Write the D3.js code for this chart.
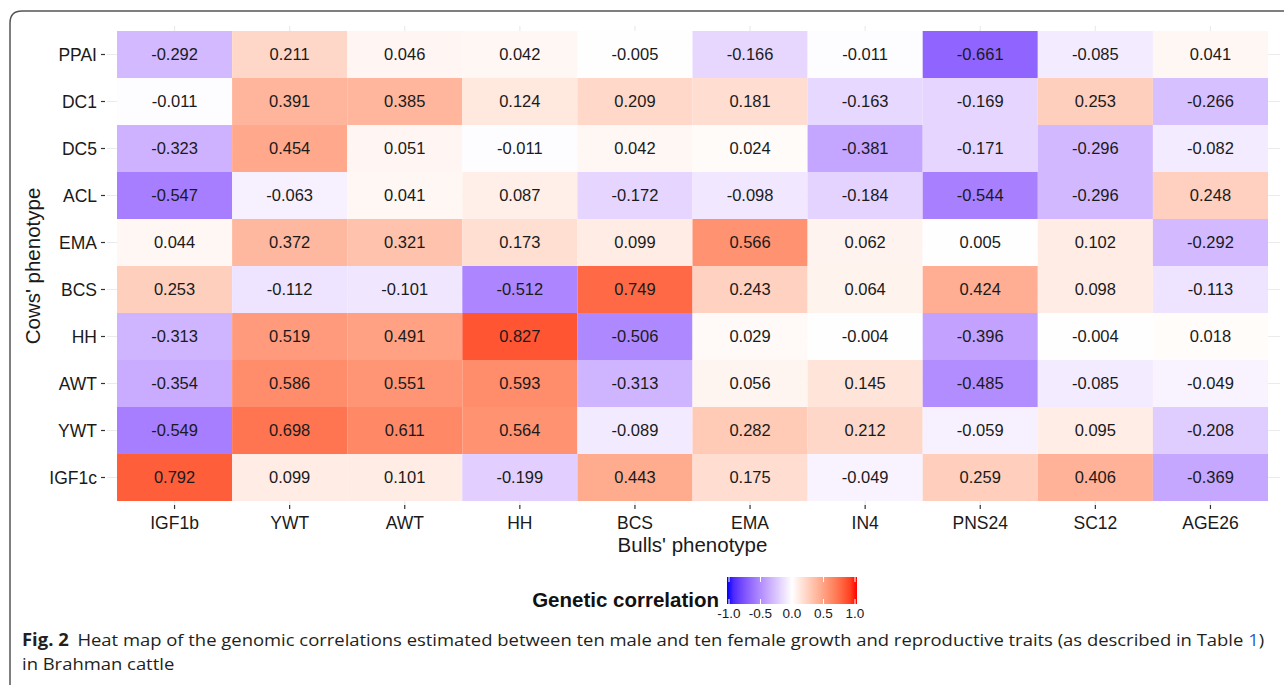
<!DOCTYPE html>
<html>
<head>
<meta charset="utf-8">
<script src="https://cdn.jsdelivr.net/npm/d3@7"></script>
<style>
  body { margin: 0; background: #fff; }
  svg { display: block; }
  .axis text { font-family: "Liberation Sans", Arial, sans-serif; font-size: 17.5px; fill: #1a1a1a; }
  .axis line { stroke: #333; stroke-width: 1.2px; }
  .axis path { display: none; }
</style>
</head>
<body>
<div id="chart"></div>
<script>
// bulls' traits (columns) and cows' traits (rows, top to bottom)
var bulls = ["IGF1b", "YWT", "AWT", "HH", "BCS", "EMA", "IN4", "PNS24", "SC12", "AGE26"];
var cows = ["PPAI", "DC1", "DC5", "ACL", "EMA", "BCS", "HH", "AWT", "YWT", "IGF1c"];

var corr = [
    [-0.292, 0.211, 0.046, 0.042, -0.005, -0.166, -0.011, -0.661, -0.085, 0.041],
    [-0.011, 0.391, 0.385, 0.124, 0.209, 0.181, -0.163, -0.169, 0.253, -0.266],
    [-0.323, 0.454, 0.051, -0.011, 0.042, 0.024, -0.381, -0.171, -0.296, -0.082],
    [-0.547, -0.063, 0.041, 0.087, -0.172, -0.098, -0.184, -0.544, -0.296, 0.248],
    [0.044, 0.372, 0.321, 0.173, 0.099, 0.566, 0.062, 0.005, 0.102, -0.292],
    [0.253, -0.112, -0.101, -0.512, 0.749, 0.243, 0.064, 0.424, 0.098, -0.113],
    [-0.313, 0.519, 0.491, 0.827, -0.506, 0.029, -0.004, -0.396, -0.004, 0.018],
    [-0.354, 0.586, 0.551, 0.593, -0.313, 0.056, 0.145, -0.485, -0.085, -0.049],
    [-0.549, 0.698, 0.611, 0.564, -0.089, 0.282, 0.212, -0.059, 0.095, -0.208],
    [0.792, 0.099, 0.101, -0.199, 0.443, 0.175, -0.049, 0.259, 0.406, -0.369]
];

var legendTicks = [-1.0, -0.5, 0.0, 0.5, 1.0];

var W = 1284, H = 685;
var margin = { top: 31, right: 16, bottom: 184, left: 117 };
var width = W - margin.left - margin.right;
var height = H - margin.top - margin.bottom;

// plain hyphen minus like the original
var locale = d3.formatLocale({ decimal: ".", thousands: ",", grouping: [3], currency: ["", ""], minus: "-" });
var fmt3 = locale.format(".3f");
var fmt1 = locale.format(".1f");

var svg = d3.select("#chart").append("svg")
    .attr("width", W)
    .attr("height", H);

// figure frame (cut off at right/bottom like the page)
svg.append("path")
    .attr("d", "M10,700 L10,23 Q10,11 22,11 L1300,11")
    .attr("fill", "none")
    .attr("stroke", "#555")
    .attr("stroke-width", 1.5);

var g = svg.append("g")
    .attr("transform", "translate(" + margin.left + "," + margin.top + ")");

var x = d3.scaleBand().domain(bulls).range([0, width]);
var y = d3.scaleBand().domain(cows).range([0, height]);

var color = d3.scaleLinear()
    .domain([-1, 0, 1])
    .range(["blue", "white", "red"])
    .interpolate(d3.interpolateLab);

// panel grid lines (only visible outside the tiles)
g.append("g").selectAll("line.v")
    .data(bulls).enter().append("line")
    .attr("x1", function (d) { return x(d) + x.bandwidth() / 2; })
    .attr("x2", function (d) { return x(d) + x.bandwidth() / 2; })
    .attr("y1", -5).attr("y2", height + 5)
    .attr("stroke", "#ebebeb").attr("stroke-width", 1.2);
g.append("g").selectAll("line.h")
    .data(cows).enter().append("line")
    .attr("y1", function (d) { return y(d) + y.bandwidth() / 2; })
    .attr("y2", function (d) { return y(d) + y.bandwidth() / 2; })
    .attr("x1", -10).attr("x2", width + 12)
    .attr("stroke", "#ebebeb").attr("stroke-width", 1.2);

var cells = [];
corr.forEach(function (row, i) {
    row.forEach(function (v, j) {
        cells.push({ row: cows[i], col: bulls[j], value: v });
    });
});

g.selectAll("rect.cell")
    .data(cells)
    .enter()
    .append("rect")
    .attr("class", "cell")
    .attr("x", function (d) { return x(d.col); })
    .attr("y", function (d) { return y(d.row); })
    .attr("width", x.bandwidth())
    .attr("height", y.bandwidth())
    .attr("fill", function (d) { return color(d.value); });

g.selectAll("text.val")
    .data(cells)
    .enter()
    .append("text")
    .attr("class", "val")
    .attr("x", function (d) { return x(d.col) + x.bandwidth() / 2; })
    .attr("y", function (d) { return y(d.row) + y.bandwidth() / 2; })
    .attr("dy", "0.36em")
    .attr("text-anchor", "middle")
    .style("font-family", "'Liberation Sans', Arial, sans-serif")
    .style("font-size", "16.5px")
    .attr("fill", "#1a1a1a")
    .text(function (d) { return fmt3(d.value); });

// axes
g.append("g")
    .attr("class", "axis")
    .attr("transform", "translate(0," + (height + 4) + ")")
    .call(d3.axisBottom(x).tickSize(4).tickPadding(5))
    .selectAll("text").attr("dy", "0.85em");

g.append("g")
    .attr("class", "axis")
    .attr("transform", "translate(-12,0)")
    .call(d3.axisLeft(y).tickSize(4).tickPadding(4))
    .selectAll("text").attr("dy", "0.36em");

// axis titles
svg.append("text")
    .attr("x", margin.left + width / 2)
    .attr("y", 552)
    .attr("text-anchor", "middle")
    .style("font-family", "'Liberation Sans', Arial, sans-serif")
    .style("font-size", "20.5px")
    .attr("fill", "#1a1a1a")
    .text("Bulls' phenotype");

svg.append("text")
    .attr("transform", "translate(40," + (margin.top + height / 2) + ") rotate(-90)")
    .attr("text-anchor", "middle")
    .style("font-family", "'Liberation Sans', Arial, sans-serif")
    .style("font-size", "20.5px")
    .attr("fill", "#1a1a1a")
    .text("Cows' phenotype");

// legend
var lx = 727, ly = 577, lw = 130, lh = 27;
var defs = svg.append("defs");
var grad = defs.append("linearGradient").attr("id", "corrGrad");
d3.range(0, 1.0001, 0.05).forEach(function (t) {
    grad.append("stop")
        .attr("offset", (t * 100) + "%")
        .attr("stop-color", color(-1 + 2 * t));
});

svg.append("rect")
    .attr("x", lx).attr("y", ly)
    .attr("width", lw).attr("height", lh)
    .attr("fill", "url(#corrGrad)");

var lscale = d3.scaleLinear().domain([-1, 1]).range([lx + 2, lx + lw - 2]);
legendTicks.forEach(function (t) {
    svg.append("line")
        .attr("x1", lscale(t)).attr("x2", lscale(t))
        .attr("y1", ly).attr("y2", ly + 5)
        .attr("stroke", "#fff").attr("stroke-width", 1);
    svg.append("line")
        .attr("x1", lscale(t)).attr("x2", lscale(t))
        .attr("y1", ly + lh - 5).attr("y2", ly + lh)
        .attr("stroke", "#fff").attr("stroke-width", 1);
});

svg.append("g").selectAll("text")
    .data(legendTicks)
    .enter().append("text")
    .attr("x", function (d) { return lscale(d); })
    .attr("y", 618)
    .attr("text-anchor", "middle")
    .style("font-family", "'Liberation Sans', Arial, sans-serif")
    .style("font-size", "13.5px")
    .attr("fill", "#1a1a1a")
    .text(function (d) { return fmt1(d); });

svg.append("text")
    .attr("x", 719)
    .attr("y", 607)
    .attr("text-anchor", "end")
    .style("font-family", "'Liberation Sans', Arial, sans-serif")
    .style("font-size", "20.5px")
    .style("font-weight", "bold")
    .attr("fill", "#111")
    .text("Genetic correlation");

// caption
var cap1 = svg.append("text")
    .attr("x", 22).attr("y", 646)
    .style("font-family", "'Open Sans', sans-serif")
    .style("font-size", "17px")
    .attr("fill", "#231f20");
cap1.append("tspan").style("font-weight", "bold").text("Fig. 2");
cap1.append("tspan").attr("dx", 8).text("Heat map of the genomic correlations estimated between ten male and ten female growth and reproductive traits (as described in Table ");
cap1.append("tspan").attr("fill", "#2f5fd0").text("1");
cap1.append("tspan").text(")");

var len1 = cap1.node().getComputedTextLength() + 8;
var sx = 1243 / len1;
cap1.attr("transform", "translate(22,0) scale(" + sx + ",1) translate(-22,0)");

var cap2 = svg.append("text")
    .attr("x", 22).attr("y", 670)
    .style("font-family", "'Open Sans', sans-serif")
    .style("font-size", "17px")
    .attr("fill", "#231f20")
    .attr("transform", "translate(22,0) scale(" + sx + ",1) translate(-22,0)")
    .text("in Brahman cattle");
</script>
</body>
</html>
